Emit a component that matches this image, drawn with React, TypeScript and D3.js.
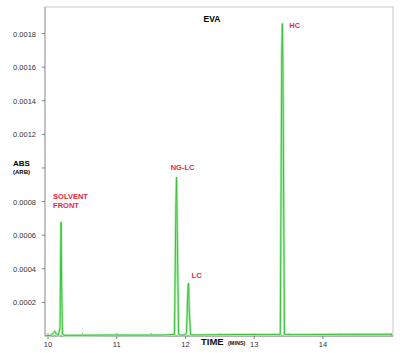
import React from "react";
import * as d3 from "d3";

const times = [9.97, 10.05, 10.08, 10.1, 10.12, 10.15, 10.175, 10.187, 10.19, 10.197, 10.21, 10.24, 10.5, 10.9, 11.3, 11.7, 11.84, 11.862, 11.87, 11.878, 11.9, 11.93, 11.99, 12.015, 12.038, 12.045, 12.055, 12.075, 12.3, 12.8, 13.2, 13.38, 13.402, 13.41, 13.418, 13.44, 13.47, 13.8, 14.3, 14.7, 15.0];
const absValues = [0.000002, 0.000004, 0.00002, 0.000028, 0.000012, 0.000004, 0.00005, 0.0006, 0.00068, 0.00035, 0.00001, 0.000004, 0.000004, 0.000006, 0.000005, 0.000006, 0.00001, 0.0008, 0.000946, 0.0007, 0.00001, 0.000005, 0.000006, 0.00002, 0.0003, 0.000315, 0.00015, 0.000006, 0.000007, 0.000009, 0.000008, 0.00001, 0.0017, 0.00186, 0.0016, 0.00001, 0.000008, 0.000008, 0.00001, 0.00001, 0.00001];
const yTicks = [0.0002, 0.0004, 0.0006, 0.0008, 0.001, 0.0012, 0.0014, 0.0016, 0.0018];
const xTicks = [10, 11, 12, 13, 14];
const xMinorTicks = [10.5, 11.5, 12.5, 13.5, 14.5, 15];
const peakLabels = [
  { t: 10.19, v: 0.00068, lines: ["SOLVENT", "FRONT"] },
  { t: 11.87, v: 0.000946, lines: ["NG-LC"] },
  { t: 12.045, v: 0.000315, lines: ["LC"] },
  { t: 13.41, v: 0.00186, lines: ["HC"] },
];

const W = 410, H = 353;
const L = 45, R = 393, T = 7, B = 336;

export default function App() {
  const x = d3.scaleLinear().domain([9.956, 15.02]).range([L, R]);
  const y = d3.scaleLinear().domain([0, 0.001958]).range([B, T]);
  const data = times.map((t, i) => [t, absValues[i]] as [number, number]);
  const line = d3.line<[number, number]>().x(d => x(d[0])).y(d => y(d[1]));
  const path = line(data) || "";
  const font = "Liberation Sans, Arial, sans-serif";
  const labelPos = [
    { dx: -8, dy: -23, anchor: "start" },
    { dx: 6, dy: -7, anchor: "middle" },
    { dx: 3, dy: -5, anchor: "start" },
    { dx: 7, dy: 5, anchor: "start" },
  ];
  return (
    <svg width={W} height={H} style={{ position: "absolute", left: 0, top: 0, background: "#fff" }}>
      <rect x={0} y={0} width={W} height={H} fill="#fff" />
      <rect x={L} y={T} width={R - L} height={B - T} fill="none" stroke="#c8c8c8" strokeWidth={1} />
      <line x1={L} x2={L} y1={T} y2={B} stroke="#a0a0a0" />
      <line x1={L} x2={R} y1={B} y2={B} stroke="#808080" />
      {yTicks.map(v => (
        <g key={v}>
          <line x1={L - 3} x2={L} y1={y(v)} y2={y(v)} stroke="#808080" />
          {Math.abs(v - 0.001) > 1e-9 && (
            <text x={L - 9} y={y(v) + 3} textAnchor="end" fontFamily={font} fontSize={7.5} fill="#333">
              {v.toFixed(4)}
            </text>
          )}
        </g>
      ))}
      <text x={13} y={166} fontFamily={font} fontSize={8} fontWeight="bold" fill="#000">ABS</text>
      <text x={13} y={174} fontFamily={font} fontSize={6} fontWeight="bold" fill="#000">(ARB)</text>
      {xTicks.map(v => (
        <g key={v}>
          <line x1={x(v)} x2={x(v)} y1={B - 3} y2={B + 3} stroke="#808080" />
          <text x={x(v)} y={B + 11} textAnchor="middle" fontFamily={font} fontSize={7.5} fill="#333">{v}</text>
        </g>
      ))}
      {xMinorTicks.map(v => (
        <line key={v} x1={x(v)} x2={x(v)} y1={B - 3} y2={B} stroke="#808080" />
      ))}
      <text x={201} y={345} fontFamily={font} fontSize={9.5} fontWeight="bold" fill="#111">TIME</text>
      <text x={228} y={345} fontFamily={font} fontSize={5.5} fontWeight="bold" fill="#111">(MINS)</text>
      <text x={212} y={22} textAnchor="middle" fontFamily={font} fontSize={8.5} fontWeight="bold" fill="#000">EVA</text>
      <path d={path} fill="none" stroke="#b4eeb4" strokeWidth={2.6} strokeLinejoin="miter" />
      <path d={path} fill="none" stroke="#3cc03c" strokeWidth={1} strokeLinejoin="miter" />
      {peakLabels.map((p, i) => (
        <text key={i} x={x(p.t) + labelPos[i].dx} y={y(p.v) + labelPos[i].dy} textAnchor={labelPos[i].anchor as any}
          fontFamily={font} fontSize={7.5} fontWeight="bold" fill="#e8283c">
          {p.lines.map((s, j) => (
            <tspan key={j} x={x(p.t) + labelPos[i].dx} dy={j === 0 ? 0 : 9}>{s}</tspan>
          ))}
        </text>
      ))}
    </svg>
  );
}
